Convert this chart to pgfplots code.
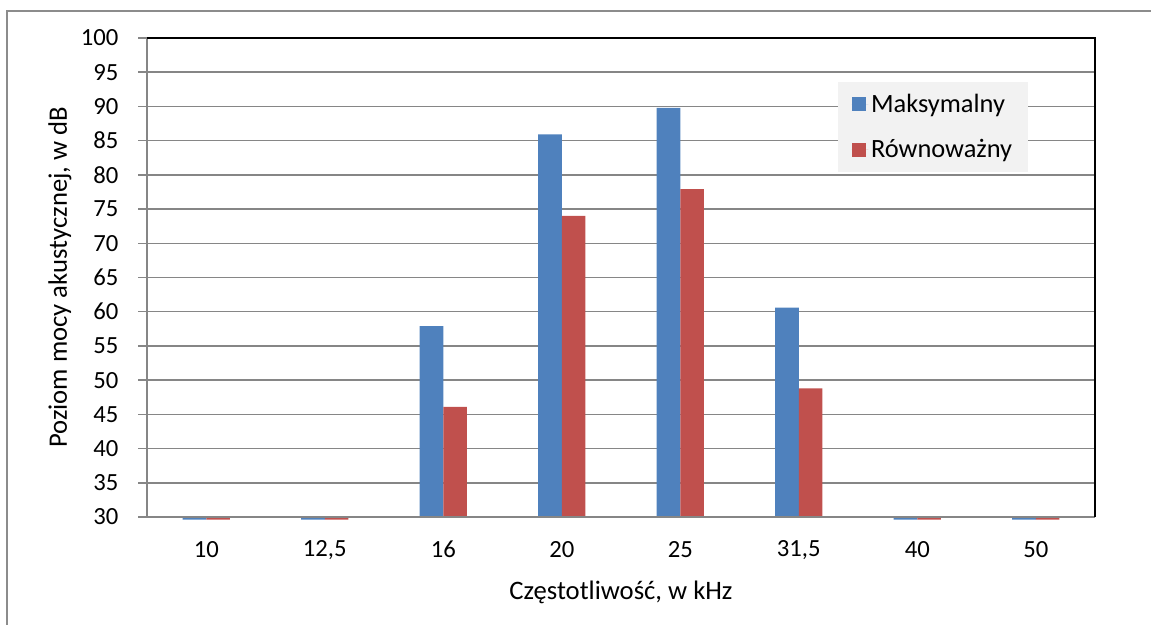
\documentclass[border=0pt]{standalone}
\usepackage{fontspec}
\setmainfont{Carlito}
\usepackage{pgfplots}
\pgfplotsset{compat=1.18}
\definecolor{maxblue}{HTML}{4F81BD}
\definecolor{eqred}{HTML}{C0504D}
\definecolor{gridgray}{HTML}{868686}
\definecolor{legbg}{HTML}{F2F2F2}
\definecolor{framegray}{HTML}{8C8C8C}
\newcommand{\chartfont}{\fontsize{18.5}{22}\selectfont}
\newcommand{\titlefont}{\fontsize{20}{24}\selectfont}
\newcommand{\legfont}{\fontsize{19.8}{23}\selectfont}

\begin{document}
\begin{tikzpicture}
\path[use as bounding box] (0pt,0pt) rectangle (863.25pt,468pt);
% outer chart frame
\draw[framegray, line width=1.4pt] (5.25pt,-5pt) -- (5.25pt,459.75pt) -- (875pt,459.75pt);
\begin{axis}[
  at={(110.25pt,80.25pt)}, anchor=south west,
  scale only axis, width=711pt, height=359.25pt,
  ybar=0pt, bar width=0.2,
  xmin=-0.5, xmax=7.5,
  ymin=30, ymax=100,
  y coord trafo/.code={\pgfmathparse{#1-30}},
  y coord inv trafo/.code={\pgfmathparse{#1+30}},
  xtick={0,1,2,3,4,5,6,7},
  xticklabels={10,{12,5},16,20,25,{31,5},40,50},
  ytick={30,35,40,45,50,55,60,65,70,75,80,85,90,95,100},
  yticklabels={30,35,40,45,50,55,60,65,70,75,80,85,90,95,100},
  ymajorgrids, grid style={gridgray, line width=1.1pt},
  axis line style={draw=none},
  tick pos=left,
  tick align=outside, major tick length=6.75pt,
  ytick style={gridgray, line width=1.1pt},
  xtick style={draw=none},
  clip=false,
  tick label style={font=\chartfont},
  yticklabel style={anchor=east, xshift=-11.25pt},
  xticklabel style={anchor=center, yshift=-17.75pt},
  xlabel={Częstotliwość, w kHz},
  ylabel={Poziom mocy akustycznej, w dB},
  every axis x label/.style={at={(axis description cs:0.5,-0.1566)}, anchor=center, font=\titlefont},
  every axis y label/.style={at={(axis description cs:-0.0918,0.5)}, rotate=90, anchor=center, font=\titlefont},
  /pgf/number format/assume math mode=true,
  legend image code/.code={\fill[#1,draw=none] (0pt,-5.25pt) rectangle (10.5pt,5.25pt);
    \path (0pt,0pt) -- (12.5pt,0pt);},
  legend style={at={(axis description cs:0.729,0.909)}, anchor=north west,
    draw=none, fill=legbg, font=\legfont, legend cell align=left,
    inner xsep=10pt, inner ysep=7pt, row sep=15pt},
]
\addplot[fill=maxblue, draw=none] coordinates {
  (0,29.6) (1,29.6) (2,57.9) (3,85.9) (4,89.8) (5,60.6) (6,29.6) (7,29.6)};
\addplot[fill=eqred, draw=none] coordinates {
  (0,29.6) (1,29.6) (2,46.1) (3,74.0) (4,77.9) (5,48.8) (6,29.6) (7,29.6)};
\legend{Maksymalny, Równoważny}
% axis frame: grey left/bottom, black top/right
\draw[gridgray, line width=1.5pt] (rel axis cs:0,1) -- (rel axis cs:0,0) -- (rel axis cs:1,0);
\draw[black, line width=1.5pt] (rel axis cs:0,1) -- (rel axis cs:1,1) -- (rel axis cs:1,0);
\end{axis}
\end{tikzpicture}
\end{document}
